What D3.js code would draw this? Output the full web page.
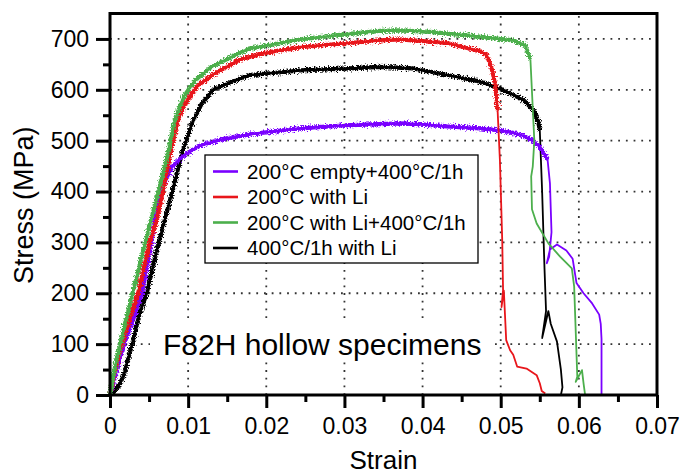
<!DOCTYPE html>
<html>
<head>
<meta charset="utf-8">
<script src="https://cdn.jsdelivr.net/npm/d3@7/dist/d3.min.js"></script>
<style>
  body { margin: 0; background: #fff; }
  svg { display: block; font-family: "Liberation Sans", Arial, Helvetica, sans-serif; }
</style>
</head>
<body>
<svg id="chart" width="684" height="475"></svg>
<script>
// ---- data: engineering strain vs stress (MPa) ----
const seriesLabels = [
  "200°C empty+400°C/1h",
  "200°C with Li",
  "200°C with Li+400°C/1h",
  "400°C/1h with Li"
];
const seriesColors = ["#7a00ff", "#e8161b", "#4caf4c", "#000000"];

// 200°C empty + 400°C/1h
const emptyAnnealLoading = [
  [0, 0], [0.0008, 45], [0.0018, 100], [0.0030, 150], [0.0041, 200], [0.0053, 300],
  [0.0058, 344], [0.0068, 409], [0.0079, 448], [0.0092, 468], [0.0105, 481],
  [0.0115, 490], [0.0147, 504], [0.0186, 514], [0.0243, 524], [0.0300, 530],
  [0.0371, 534], [0.0400, 532], [0.0431, 528], [0.0474, 524], [0.0500, 520],
  [0.0525, 512], [0.0538, 503], [0.0550, 488], [0.0557, 470], [0.0560, 462]
];
const emptyAnnealFracture = [
  [0.0560, 462], [0.0563, 416], [0.0565, 320], [0.0562, 272], [0.0559, 259],
  [0.0563, 286], [0.0572, 296], [0.0584, 284], [0.0592, 268], [0.0597, 220],
  [0.0606, 200], [0.0617, 180], [0.0626, 158], [0.0628, 140], [0.0629, 110],
  [0.0629, 0]
];

// 200°C with Li
const withLiLoading = [
  [0, 0], [0.0006, 45], [0.0015, 100], [0.0036, 200], [0.0051, 300], [0.0060, 344],
  [0.0068, 400], [0.0077, 475], [0.0087, 540], [0.0096, 572], [0.0111, 606],
  [0.0134, 632], [0.0164, 658], [0.0194, 671], [0.0243, 684], [0.0307, 692],
  [0.0346, 697], [0.0371, 699], [0.0388, 697], [0.0431, 692], [0.0452, 684],
  [0.0474, 676], [0.0482, 668], [0.0488, 645], [0.0493, 612], [0.0496, 560]
];
const withLiFracture = [
  [0.0496, 560], [0.0499, 460], [0.0502, 300], [0.0503, 206], [0.0501, 173],
  [0.0504, 205], [0.0507, 108], [0.0512, 88], [0.0516, 79], [0.0521, 56],
  [0.0533, 52], [0.0546, 39], [0.0550, 23], [0.05525, 8], [0.0557, 3]
];

// 200°C with Li + 400°C/1h
const withLiAnnealLoading = [
  [0, 0], [0.0005, 45], [0.0013, 100], [0.0029, 200], [0.0045, 300], [0.0062, 400],
  [0.0074, 475], [0.0083, 540], [0.0094, 586], [0.0109, 619], [0.0130, 645],
  [0.0156, 665], [0.0179, 681], [0.0243, 699], [0.0307, 710], [0.0346, 716],
  [0.0371, 717], [0.0410, 714], [0.0474, 704], [0.0516, 697], [0.0531, 688],
  [0.0538, 660]
];
const withLiAnnealFracture = [
  [0.0538, 660], [0.0543, 500], [0.0541, 449], [0.0539, 430], [0.0540, 365],
  [0.0546, 337], [0.0561, 298], [0.0576, 272], [0.0591, 249], [0.0594, 213],
  [0.0598, 36], [0.0596, 26], [0.0604, 49], [0.0606, 23], [0.0608, 0]
];

// 400°C/1h with Li
const annealWithLiLoading = [
  [0, 3], [0.0002, 4], [0.0009, 13], [0.0017, 36], [0.0028, 98], [0.0038, 160],
  [0.0047, 200], [0.0060, 285], [0.0079, 396], [0.0092, 475], [0.0105, 534],
  [0.0117, 572], [0.0132, 600], [0.0156, 616], [0.0179, 629], [0.0243, 638],
  [0.0307, 642], [0.0346, 645], [0.0388, 642], [0.0431, 629], [0.0474, 616],
  [0.0508, 596], [0.0529, 580], [0.0542, 560], [0.0548, 537], [0.0550, 521]
];
const annealWithLiFracture = [
  [0.0550, 521], [0.0553, 400], [0.0556, 250], [0.0558, 165], [0.0553, 112],
  [0.0561, 165], [0.0564, 140], [0.0572, 105], [0.0577, 50], [0.0579, 15],
  [0.0577, 0]
];

const loadingSets = [emptyAnnealLoading, withLiLoading, withLiAnnealLoading, annealWithLiLoading];
const fractureSets = [emptyAnnealFracture, withLiFracture, withLiAnnealFracture, annealWithLiFracture];

const xMajorTicks = [0, 0.01, 0.02, 0.03, 0.04, 0.05, 0.06, 0.07];
const xMinorTicks = [0.005, 0.015, 0.025, 0.035, 0.045, 0.055, 0.065];
const yMajorTicks = [0, 100, 200, 300, 400, 500, 600, 700];
const yMinorTicks = [50, 150, 250, 350, 450, 550, 650];
const xGrid = [0.01, 0.02, 0.03, 0.04, 0.05, 0.06];
const yGrid = [100, 200, 300, 400, 500, 600, 700];

// ---- layout ----
const svg = d3.select("#chart");
const plotL = 110, plotR = 657, plotT = 13.5, plotB = 395;
const x = d3.scaleLinear().domain([0, 0.07]).range([plotL, plotR]);
const y = d3.scaleLinear().domain([0, 750]).range([plotB, plotT]);

// noise texture for the measured signal
const defs = svg.append("defs");
const f = defs.append("filter").attr("id", "fuzz")
  .attr("filterUnits", "userSpaceOnUse")
  .attr("x", 0).attr("y", 0).attr("width", 684).attr("height", 475);
f.append("feTurbulence").attr("type", "fractalNoise").attr("baseFrequency", "0.7 0.9")
  .attr("numOctaves", 2).attr("seed", 7).attr("result", "n");
f.append("feDisplacementMap").attr("in", "SourceGraphic").attr("in2", "n")
  .attr("scale", 7).attr("xChannelSelector", "R").attr("yChannelSelector", "G");

// dotted grid
const grid = svg.append("g").attr("stroke", "#333").attr("stroke-width", 1.8)
  .attr("stroke-dasharray", "1.8 5.9");
grid.selectAll("line.v").data(xGrid).join("line").attr("class", "v")
  .attr("x1", d => x(d)).attr("x2", d => x(d)).attr("y1", plotB).attr("y2", plotT);
grid.selectAll("line.h").data(yGrid).join("line").attr("class", "h")
  .attr("x1", plotL).attr("x2", plotR).attr("y1", d => y(d)).attr("y2", d => y(d));

// annotation background
const note = svg.append("g");
note.append("rect").attr("x", 150).attr("y", 318).attr("width", 345).attr("height", 44)
  .attr("fill", "#fff");

// curves: a jittered band for the noisy signal plus a solid core
const line = d3.line().x(d => x(d[0])).y(d => y(d[1]));
const drawOrder = [3, 0, 1, 2];
const curves = svg.append("g").attr("fill", "none").attr("stroke-linejoin", "round");
drawOrder.forEach(i => {
  curves.append("path").attr("d", line(loadingSets[i]))
    .attr("stroke", seriesColors[i]).attr("stroke-width", 4.2).attr("filter", "url(#fuzz)");
  curves.append("path").attr("d", line(loadingSets[i]))
    .attr("stroke", seriesColors[i]).attr("stroke-width", 2.6);
  curves.append("path").attr("d", line(fractureSets[i]))
    .attr("stroke", seriesColors[i]).attr("stroke-width", 1.8);
});

note.raise();
note.append("text").attr("x", 163).attr("y", 355).attr("font-size", 30)
  .attr("fill", "#000").text("F82H hollow specimens");

// axes
const fmtX = d => d === 0 ? "0" : d3.format(".2f")(d);
const gx = svg.append("g").attr("transform", `translate(0,${plotB})`)
  .call(d3.axisBottom(x).tickValues(xMajorTicks).tickSize(13).tickPadding(10).tickFormat(fmtX));
const gxm = svg.append("g").attr("transform", `translate(0,${plotB})`)
  .call(d3.axisBottom(x).tickValues(xMinorTicks).tickSize(7).tickFormat(""));
const gy = svg.append("g").attr("transform", `translate(${plotL},0)`)
  .call(d3.axisLeft(y).tickValues(yMajorTicks).tickSize(14).tickPadding(7).tickFormat(d3.format("d")));
const gym = svg.append("g").attr("transform", `translate(${plotL},0)`)
  .call(d3.axisLeft(y).tickValues(yMinorTicks).tickSize(7).tickFormat(""));
[gx, gxm, gy, gym].forEach(g => {
  g.select(".domain").remove();
  g.selectAll(".tick line").attr("stroke", "#000").attr("stroke-width", 3);
  g.selectAll(".tick text").attr("fill", "#000").attr("font-size", 23)
    .attr("font-family", "'Liberation Sans', Arial, sans-serif");
});

// frame
svg.append("rect").attr("x", plotL).attr("y", plotT).attr("width", plotR - plotL)
  .attr("height", plotB - plotT).attr("fill", "none").attr("stroke", "#000").attr("stroke-width", 3);

// axis titles
svg.append("text").attr("x", (plotL + plotR) / 2).attr("y", 469).attr("text-anchor", "middle")
  .attr("font-size", 26).text("Strain");
svg.append("text").attr("transform", `translate(33,${(plotT + plotB) / 2 + 1}) rotate(-90)`)
  .attr("text-anchor", "middle").attr("font-size", 27).text("Stress (MPa)");

// legend
const lg = svg.append("g");
lg.append("rect").attr("x", 205).attr("y", 155).attr("width", 273).attr("height", 108)
  .attr("fill", "#fff").attr("stroke", "#000").attr("stroke-width", 1.3);
seriesLabels.forEach((lab, i) => {
  const ly = 171.5 + i * 25.5;
  lg.append("line").attr("x1", 213).attr("x2", 238).attr("y1", ly).attr("y2", ly)
    .attr("stroke", seriesColors[i]).attr("stroke-width", 2.6);
  lg.append("text").attr("x", 247).attr("y", ly).attr("dy", "0.36em")
    .attr("font-size", 20.5).text(lab);
});
</script>
</body>
</html>
